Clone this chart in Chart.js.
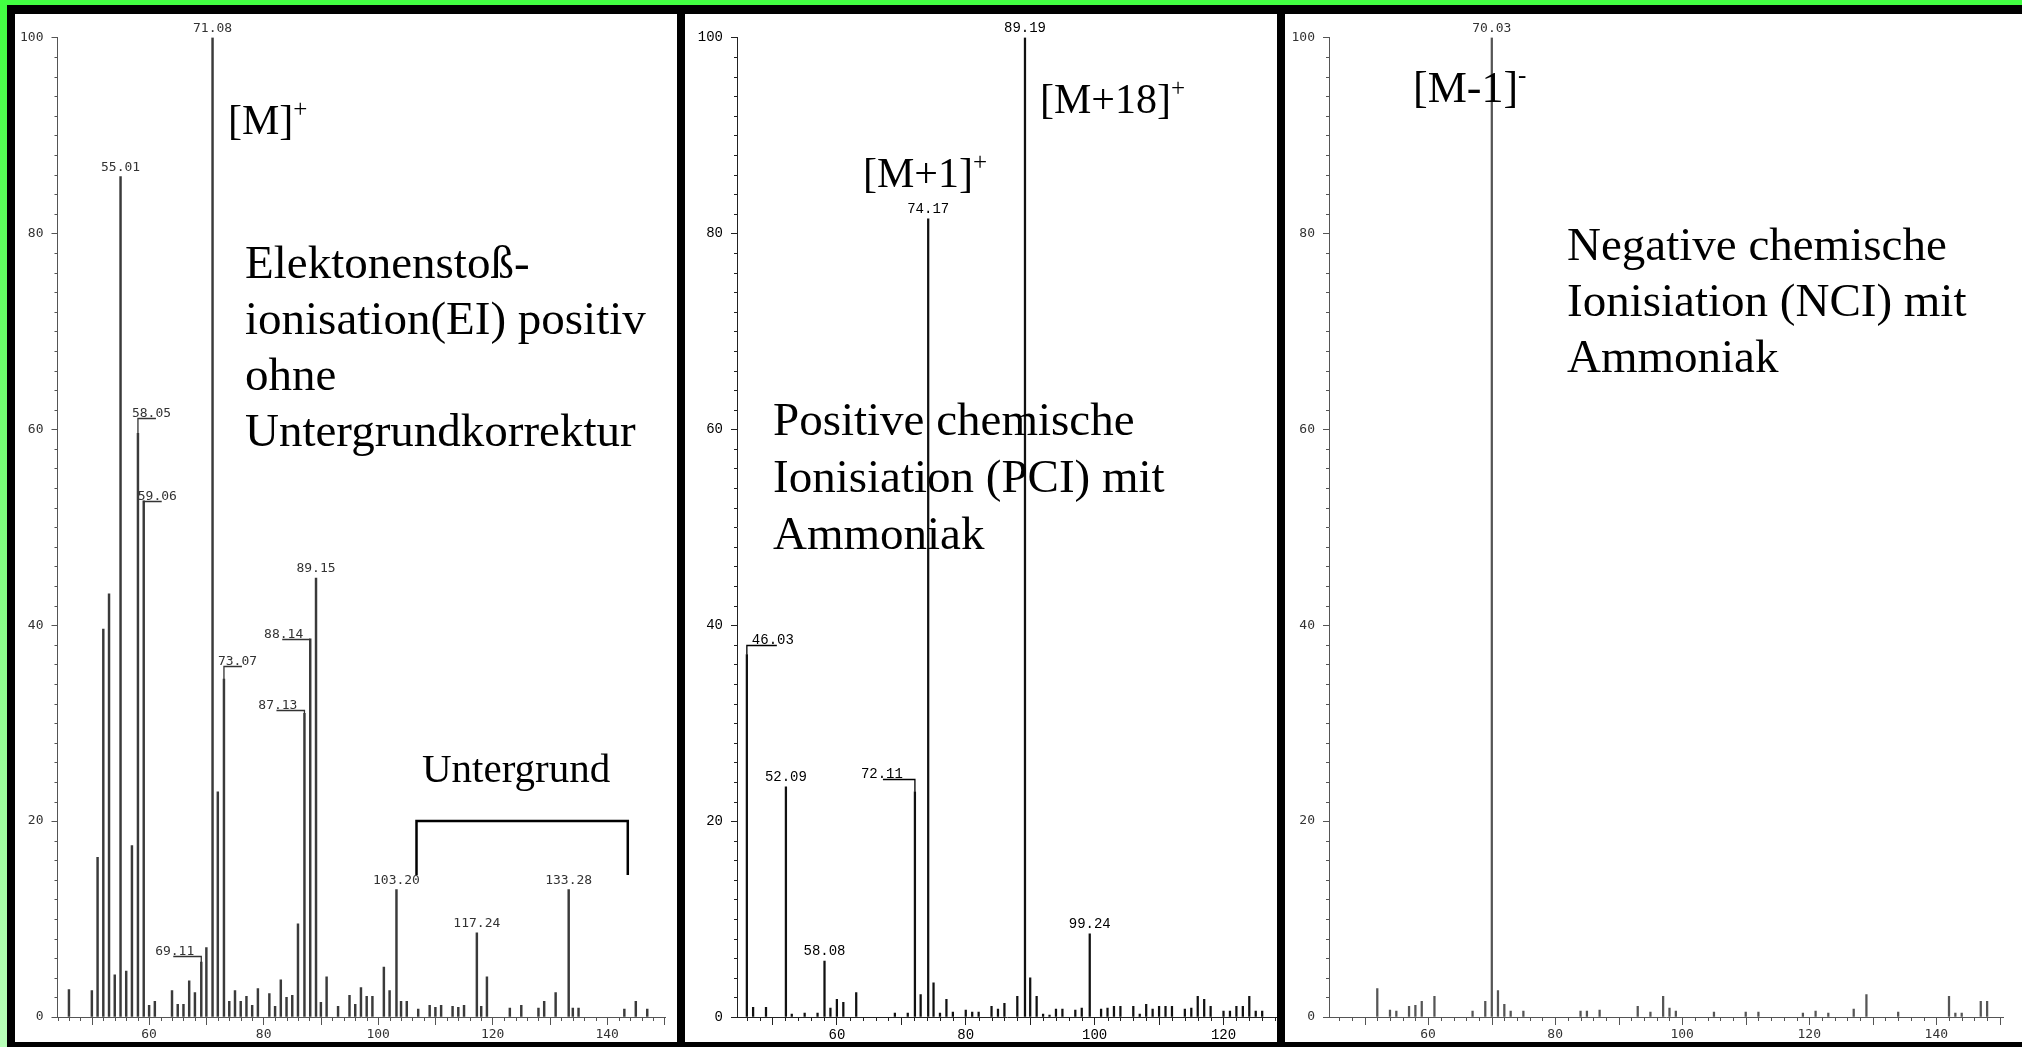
<!DOCTYPE html>
<html><head><meta charset="utf-8">
<script src="https://cdn.jsdelivr.net/npm/chart.js@4.4.1/dist/chart.umd.min.js"></script>
<style>
html,body{margin:0;padding:0;}
body{width:2022px;height:1047px;position:relative;overflow:hidden;background:#42ff42;}
#leftstrip{position:absolute;left:0;top:0;width:7px;height:1047px;background:linear-gradient(#42ff42,#b8ffb8);}
#frame{position:absolute;left:7px;top:5px;width:2015px;height:1042px;background:#000;}
.panel{position:absolute;top:14px;height:1028px;background:#fff;}
.panel canvas{position:absolute;left:0;top:0;}
.t{position:absolute;font-family:"Liberation Serif","Times New Roman",serif;font-size:47px;line-height:56px;color:#000;white-space:nowrap;z-index:5;}
.ion{font-size:42px;}
.ion sup{font-size:25px;position:relative;top:-17px;vertical-align:baseline;line-height:0;}
</style>
</head><body>
<div id="leftstrip"></div>
<div id="frame"></div>
<div class="panel" style="left:15px;width:662px;"><canvas id="c1" width="662" height="1028"></canvas></div>
<div class="panel" style="left:685px;width:592px;"><canvas id="c2" width="592" height="1028"></canvas></div>
<div class="panel" style="left:1285px;width:737px;"><canvas id="c3" width="737" height="1028"></canvas></div>

<div class="t ion" style="left:228px;top:92px;">[M]<sup>+</sup></div>
<div class="t" style="left:245px;top:234px;">Elektonenstoß-<br>ionisation(EI) positiv<br>ohne<br>Untergrundkorrektur</div>
<div class="t" style="left:422px;top:740px;font-size:41px;">Untergrund</div>

<div class="t ion" style="left:1040px;top:71px;">[M+18]<sup>+</sup></div>
<div class="t ion" style="left:863px;top:145px;">[M+1]<sup>+</sup></div>
<div class="t" style="left:773px;top:391px;line-height:57px;">Positive chemische<br>Ionisiation (PCI) mit<br>Ammoniak</div>

<div class="t ion" style="left:1413px;top:60px;font-size:44px;">[M-1]<sup style="top:-19px;">-</sup></div>
<div class="t" style="left:1567px;top:216px;">Negative chemische<br>Ionisiation (NCI) mit<br>Ammoniak</div>

<script>
// ---------- DATA ----------
const yTicks = [0, 20, 40, 60, 80, 100];
const xTicksEI = [60, 80, 100, 120, 140];
const xTicksPCI = [60, 80, 100, 120];
const xTicksNCI = [60, 80, 100, 120, 140];

// EI positive (m/z, relative intensity %)
const eiMz = [46,50,51,52,53,54,55.01,56,57,58.05,59.06,60,61,64,65,66,67,68,69.11,70,71.08,72,73.07,74,75,76,77,78,79,81,82,83,84,85,86,87.13,88.14,89.15,90,91,93,95,96,97,98,99,101,102,103.20,104,105,107,109,110,111,113,114,115,117.24,118,119,123,125,128,129,131,133.28,134,135,143,145,147];
const eiInt = [2.8,2.7,16.3,39.6,43.2,4.3,85.8,4.7,17.5,59.6,52.7,1.2,1.6,2.7,1.3,1.3,3.7,2.5,5.6,7.1,100,23.0,34.5,1.6,2.7,1.6,2.1,1.2,2.9,2.4,1.1,3.8,2.0,2.2,9.5,31.0,38.6,44.8,1.5,4.1,1.1,2.2,1.3,3.0,2.1,2.1,5.1,2.7,13.0,1.6,1.6,0.8,1.2,1.0,1.2,1.1,1.0,1.2,8.6,1.1,4.1,0.9,1.2,0.9,1.6,2.5,13.0,0.9,0.9,0.8,1.6,0.8];
const eiLabelMz = [55.01,71.08,58.05,59.06,69.11,73.07,87.13,88.14,89.15,103.20,117.24,133.28];
const eiLabelLeader = [null,null,61.2,52.7,6.2,35.8,31.3,38.6,null,null,null,null];
const eiLabelSide = ['c','c','r','r','l','r','l','l','c','c','c','c'];
const eiBackgroundMz = [106.7, 143.6];
const eiBackgroundInt = [14.5, 20];

// PCI with ammonia
const pciMz = [46.03,47,49,52.09,53,55,57,58.08,59,60,61,63,69,71,72.11,73,74.17,75,76,77,78,80,81,82,84,85,86,88,89.19,90,91,92,93,94,95,97,98,99.24,101,102,103,104,106,107,108,109,110,111,112,114,115,116,117,118,120,121,122,123,124,125,126];
const pciInt = [37.0,1.0,1.0,23.5,0.3,0.4,0.4,5.7,0.9,1.8,1.5,2.5,0.4,0.4,23.0,2.3,81.5,3.5,0.4,1.8,0.5,0.7,0.5,0.5,1.1,0.8,1.4,2.1,100,4.0,2.1,0.3,0.2,0.8,0.8,0.7,0.9,8.5,0.8,0.9,1.1,1.1,1.1,0.3,1.3,0.8,1.1,1.1,1.1,0.8,0.9,2.1,1.8,1.1,0.6,0.6,1.1,1.1,2.1,0.6,0.6];
const pciLabelMz = [89.19,74.17,46.03,52.09,58.08,72.11,99.24];
const pciLabelLeader = [null,null,38.0,null,null,24.3,null];
const pciLabelSide = ['c','c','r','c','c','l','c'];

// NCI with ammonia
const nciMz = [52,54,55,57,58,59,61,67,69,70.03,71,72,73,75,84,85,87,93,95,97,98,99,105,110,112,119,121,123,127,129,134,142,143,144,147,148];
const nciInt = [2.9,0.7,0.6,1.1,1.2,1.6,2.1,0.6,1.6,100,2.7,1.3,0.6,0.6,0.6,0.6,0.7,1.1,0.5,2.1,0.9,0.6,0.5,0.5,0.5,0.4,0.6,0.4,0.8,2.3,0.5,2.1,0.4,0.4,1.6,1.6];
const nciLabelMz = [70.03];
const nciLabelLeader = [null];
const nciLabelSide = ['c'];

// ---------- DECORATION PLUGIN ----------
const decor = {
  id: 'decor',
  afterDatasetsDraw(chart, args, o) {
    const ctx = chart.ctx, a = chart.chartArea, xs = chart.scales.x, ys = chart.scales.y;
    ctx.save();
    ctx.strokeStyle = o.axisColor;
    ctx.lineWidth = 1;
    for (let v = 0; v <= 100; v += 2) {
      if (v % 20 === 0) continue;
      const py = Math.round(ys.getPixelForValue(v)) + 0.5;
      ctx.beginPath(); ctx.moveTo(a.left - 3, py); ctx.lineTo(a.left, py); ctx.stroke();
    }
    for (let v = Math.ceil(xs.min / 2) * 2; v <= xs.max; v += 2) {
      if (v % 20 === 0) continue;
      const px = Math.round(xs.getPixelForValue(v)) + 0.5;
      const len = (v % 10 === 0) ? 8 : 4;
      ctx.beginPath(); ctx.moveTo(px, a.bottom); ctx.lineTo(px, a.bottom + len); ctx.stroke();
    }
    ctx.font = o.font;
    ctx.fillStyle = o.labelColor;
    ctx.strokeStyle = o.labelColor;
    o.labelMz.forEach((m, i) => {
      const idx = o.mz.indexOf(m);
      const val = o.int[idx];
      const px = xs.getPixelForValue(m);
      const top = ys.getPixelForValue(val);
      const txt = m.toFixed(2);
      const side = o.labelSide[i];
      if (side === 'c') {
        ctx.textAlign = 'center'; ctx.textBaseline = 'alphabetic';
        ctx.fillText(txt, px, top - 6);
      } else {
        const yb = Math.round(ys.getPixelForValue(o.labelLeader[i])) + 0.5;
        ctx.lineWidth = 1.3;
        ctx.beginPath();
        ctx.moveTo(px, top); ctx.lineTo(px, yb);
        if (side === 'r') ctx.lineTo(px + o.rLine, yb); else ctx.lineTo(px - o.lLine, yb);
        ctx.stroke();
        ctx.textBaseline = 'alphabetic';
        if (side === 'r') { ctx.textAlign = 'left'; ctx.fillText(txt, px + o.rDx, yb - 2); }
        else { ctx.textAlign = 'right'; ctx.fillText(txt, px - o.lGap, yb - 2); }
      }
    });
    if (o.bracketMz) {
      const x1 = xs.getPixelForValue(o.bracketMz[0]), x2 = xs.getPixelForValue(o.bracketMz[1]);
      const yt = ys.getPixelForValue(o.bracketInt[1]), ybot = ys.getPixelForValue(o.bracketInt[0]);
      ctx.strokeStyle = '#000'; ctx.lineWidth = 2.5;
      ctx.beginPath(); ctx.moveTo(x1, ybot); ctx.lineTo(x1, yt); ctx.lineTo(x2, yt); ctx.lineTo(x2, ybot); ctx.stroke();
    }
    ctx.restore();
  }
};

function makeChart(id, mz, ints, xmin, xmax, xTicks, padRight, yWidth, style, labels, bracket) {
  const tickFont = { family: style.fontFamily, size: style.tickSize };
  return new Chart(document.getElementById(id), {
    type: 'bar',
    data: {
      datasets: [{
        data: mz.map((m, i) => ({ x: m, y: ints[i] })),
        backgroundColor: style.barColor,
        borderWidth: 0,
        barThickness: style.barWidth
      }]
    },
    options: {
      responsive: false,
      animation: false,
      devicePixelRatio: 1,
      layout: { padding: { left: 0, top: 23.5, right: padRight, bottom: 0 } },
      plugins: {
        legend: { display: false },
        tooltip: { enabled: false },
        decor: Object.assign({
          axisColor: style.axisColor,
          labelColor: style.labelColor,
          font: style.labelSize + 'px "' + style.fontFamily + '"',
          rDx: style.rDx, rLine: style.rLine, lGap: style.lGap, lLine: style.lLine,
          mz: mz, int: ints
        }, labels, bracket || {})
      },
      scales: {
        x: {
          type: 'linear', min: xmin, max: xmax, offset: false,
          grid: { offset: false, drawOnChartArea: false, drawTicks: true, tickLength: 8, color: style.axisColor },
          border: { display: true, color: style.axisColor, width: 1 },
          ticks: { font: tickFont, color: style.tickColor, padding: 2, maxRotation: 0, autoSkip: false },
          afterBuildTicks: s => { s.ticks = xTicks.map(v => ({ value: v })); },
          afterFit: s => { s.height = 25; }
        },
        y: {
          type: 'linear', min: 0, max: 100,
          grid: { drawOnChartArea: false, drawTicks: true, tickLength: 6, color: style.axisColor },
          border: { display: true, color: style.axisColor, width: 1 },
          ticks: { font: tickFont, color: style.tickColor, padding: 8 },
          afterBuildTicks: s => { s.ticks = yTicks.map(v => ({ value: v })); },
          afterFit: s => { s.width = yWidth; }
        }
      }
    },
    plugins: [decor]
  });
}

const greyStyle = { fontFamily: 'DejaVu Sans Mono', tickSize: 13, labelSize: 13, tickColor: '#333', labelColor: '#333', axisColor: '#555', barColor: '#3a3a3a', barWidth: 1.8, rDx: -6, rLine: 18, lGap: 7, lLine: 28 };
const blackStyle = { fontFamily: 'Liberation Mono', tickSize: 14, labelSize: 14, tickColor: '#000', labelColor: '#000', axisColor: '#222', barColor: '#111', barWidth: 1.6, rDx: 5, rLine: 30, lGap: 12, lLine: 32 };
const greyStyle3 = Object.assign({}, greyStyle, { barColor: '#555', barWidth: 1.6 });

makeChart('c1', eiMz, eiInt, 44.0, 150.1, xTicksEI, 12, 42.5, greyStyle,
  { labelMz: eiLabelMz, labelLeader: eiLabelLeader, labelSide: eiLabelSide },
  { bracketMz: eiBackgroundMz, bracketInt: eiBackgroundInt });
makeChart('c2', pciMz, pciInt, 44.5, 128.3, xTicksPCI, 0, 52, blackStyle,
  { labelMz: pciLabelMz, labelLeader: pciLabelLeader, labelSide: pciLabelSide }, null);
makeChart('c3', nciMz, nciInt, 44.4, 150.5, xTicksNCI, 19, 44, greyStyle3,
  { labelMz: nciLabelMz, labelLeader: nciLabelLeader, labelSide: nciLabelSide }, null);
</script>
</body></html>
